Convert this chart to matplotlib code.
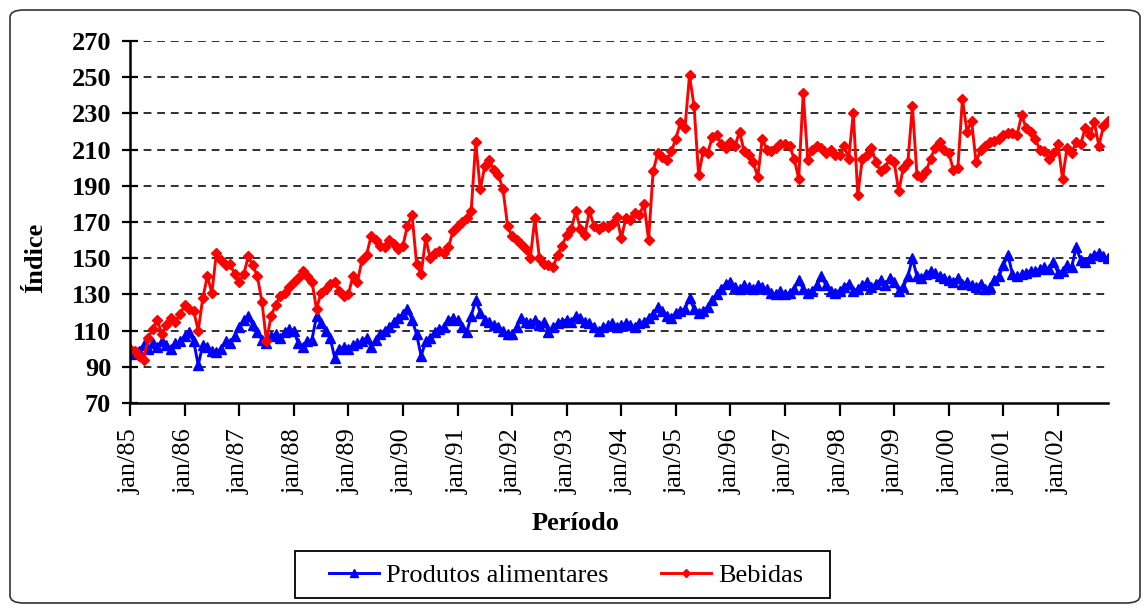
import matplotlib
matplotlib.use("Agg")
import matplotlib.pyplot as plt
from matplotlib.patches import FancyBboxPatch, Rectangle

# índices mensais, jan/85 a dez/02 (12 valores por linha = 1 ano)
alimentares = [
    98, 97, 99, 102, 100, 103, 101, 104, 102, 100, 103, 104,      # 85
    107, 109, 104, 91, 102, 101, 99, 98, 100, 104, 103, 107,      # 86
    112, 116, 118, 113, 109, 105, 103, 107, 108, 106, 109, 111,   # 87
    110, 103, 101, 104, 105, 118, 114, 110, 106, 95, 100, 101,    # 88
    100, 102, 103, 104, 106, 101, 105, 108, 110, 112, 115, 117,   # 89
    119, 122, 116, 108, 96, 104, 106, 109, 111, 112, 116, 117,    # 90
    116, 112, 109, 118, 127, 120, 116, 115, 113, 112, 110, 108,   # 91
    108, 112, 117, 115, 114, 116, 113, 115, 109, 112, 114, 115,   # 92
    116, 115, 118, 117, 115, 114, 112, 110, 112, 113, 114, 112,   # 93
    113, 114, 113, 112, 114, 115, 117, 119, 123, 121, 118, 117,   # 94
    120, 121, 122, 128, 122, 120, 121, 123, 127, 130, 133, 136,   # 95
    137, 134, 133, 135, 134, 133, 135, 134, 133, 131, 130, 132,   # 96
    130, 131, 133, 138, 133, 131, 132, 135, 140, 135, 132, 131,   # 97
    132, 134, 136, 132, 133, 135, 137, 134, 136, 138, 135, 139,   # 98
    137, 132, 134, 140, 150, 140, 139, 141, 143, 142, 140, 139,   # 99
    138, 137, 139, 136, 137, 135, 134, 136, 133, 134, 138, 140,   # 00
    146, 152, 141, 140, 141, 142, 143, 143, 144, 145, 144, 148,   # 01
    142, 143, 146, 145, 156, 149, 148, 150, 152, 153, 151, 150,   # 02
]

bebidas = [
    100, 99, 96, 94, 106, 111, 116, 108, 113, 117, 115, 119,      # 85
    124, 122, 121, 110, 128, 140, 131, 153, 149, 146, 147, 141,   # 86
    137, 141, 151, 146, 140, 126, 104, 118, 124, 129, 131, 134,   # 87
    137, 139, 143, 140, 137, 122, 131, 133, 136, 137, 132, 129,   # 88
    130, 140, 137, 149, 152, 162, 160, 157, 156, 160, 158, 155,   # 89
    157, 168, 174, 147, 141, 161, 150, 153, 154, 153, 156, 165,   # 90
    168, 170, 172, 176, 214, 188, 201, 204, 199, 196, 188, 168,   # 91
    162, 160, 158, 155, 150, 172, 150, 147, 146, 145, 152, 157,   # 92
    163, 166, 176, 166, 163, 176, 168, 166, 168, 167, 169, 173,   # 93
    161, 172, 171, 175, 174, 180, 160, 198, 208, 206, 204, 209,   # 94
    216, 225, 222, 251, 234, 196, 209, 208, 217, 218, 213, 211,   # 95
    214, 212, 220, 209, 207, 203, 195, 216, 210, 209, 211, 213,   # 96
    213, 212, 205, 194, 241, 204, 210, 212, 211, 208, 210, 207,   # 97
    207, 212, 205, 230, 185, 205, 207, 211, 203, 198, 200, 205,   # 98
    203, 187, 200, 203, 234, 196, 195, 198, 205, 211, 214, 210,   # 99
    208, 199, 200, 238, 220, 226, 203, 210, 212, 214, 215, 216,   # 00
    218, 219, 219, 218, 229, 222, 220, 216, 210, 209, 205, 208,   # 01
    213, 194, 211, 208, 214, 213, 222, 218, 225, 212, 223, 226,   # 02
]

rotulos = ["jan/85", "jan/86", "jan/87", "jan/88", "jan/89", "jan/90",
           "jan/91", "jan/92", "jan/93", "jan/94", "jan/95", "jan/96",
           "jan/97", "jan/98", "jan/99", "jan/00", "jan/01", "jan/02"]

plt.rcParams['font.family'] = ['Liberation Serif', 'DejaVu Serif']

W, H = 1146, 608
fig = plt.figure(figsize=(W / 100, H / 100), dpi=100)

# moldura arredondada da área do gráfico
moldura = FancyBboxPatch((10 / W, 5 / H), 1130 / W, 593 / H,
                         boxstyle="round,pad=0,rounding_size=0.012",
                         transform=fig.transFigure, facecolor="white",
                         edgecolor="#333333", linewidth=1.2, zorder=-10)
fig.patches.append(moldura)

ax = fig.add_axes([130 / W, 1 - 403 / H, (1108 - 130) / W, (403 - 41) / H])
ax.set_facecolor("none")

x = list(range(len(bebidas)))
ax.plot(x, alimentares, color="#0000FF", lw=2.1, marker="^", ms=6.5,
        label="Produtos alimentares", zorder=3)
ax.plot(x, bebidas, color="#FF0000", lw=2.1, marker="D", ms=5.2,
        label="Bebidas", zorder=4)

ax.set_xlim(0, len(bebidas) - 1)
ax.set_ylim(70, 270)
ax.set_yticks(range(70, 271, 20))
ax.set_xticks(range(0, len(bebidas), 12))
ax.set_xticklabels(rotulos, rotation=90, fontsize=19)
for t in ax.get_yticklabels():
    t.set_fontsize(19)
    t.set_fontweight("bold")

for v in range(90, 271, 20):
    ax.axhline(v, color="#303030", lw=1.4, dashes=(4, 3), zorder=1)

for s in ["top", "right"]:
    ax.spines[s].set_visible(False)
for s in ["left", "bottom"]:
    ax.spines[s].set_linewidth(1.8)
    ax.spines[s].set_zorder(5)

ax.tick_params(axis="y", direction="inout", length=11, width=1.6, pad=8)
ax.tick_params(axis="x", direction="out", length=9, width=1.6, pad=9)

fig.text(575 / W, 1 - 524 / H, "Período", ha="center", va="center",
         fontsize=19, fontweight="bold")
fig.text(36 / W, 1 - 258 / H, "Índice", ha="center", va="center",
         rotation=90, fontsize=19, fontweight="bold")

# legenda: caixa desenhada à parte para ter o espaçamento do original
fig.patches.append(Rectangle((295 / W, 1 - 598 / H), 535 / W, 47 / H,
                             transform=fig.transFigure, facecolor="white",
                             edgecolor="black", linewidth=1.3))
leg = fig.legend(loc="center", bbox_to_anchor=(566 / W, 1 - 575 / H),
                 ncol=2, fontsize=19, frameon=False, markerscale=0.8,
                 handlelength=1.9, handletextpad=0.25, columnspacing=2.0,
                 borderpad=0.3)

fig.savefig("out.png", dpi=100)
